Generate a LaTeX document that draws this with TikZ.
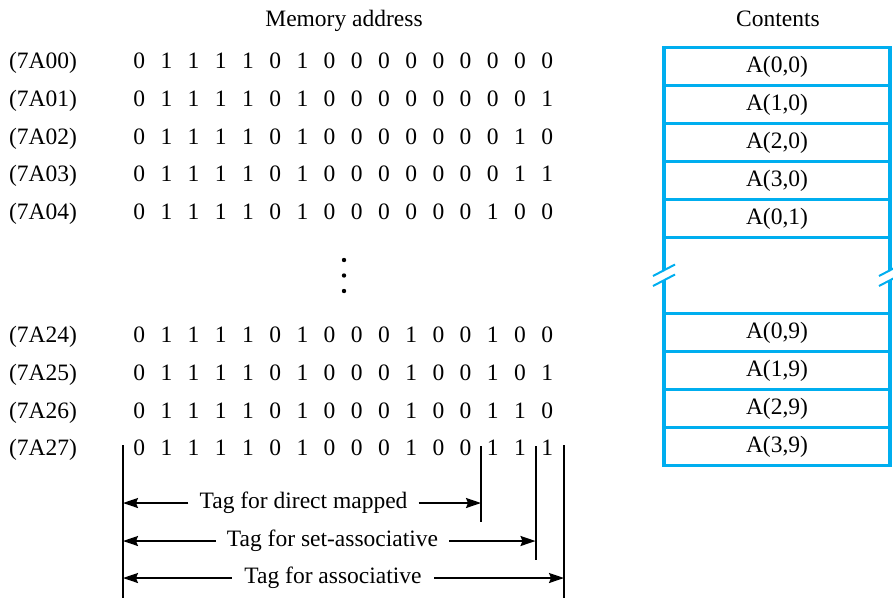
\documentclass[tikz,border=0pt]{standalone}
\usepackage{fontspec}
\setmainfont{Liberation Serif}
\usetikzlibrary{arrows.meta}
\definecolor{cy}{RGB}{0,174,239}
\newcommand\bb[1]{\makebox[27.2pt]{#1}}
\def\mybitsi#1{\ifx#1\relax\else\bb{#1}\expandafter\mybitsi\fi}
\newcommand\mybits[1]{\edef\mytmp{#1}\expandafter\mybitsi\mytmp\relax}
\begin{document}
\begin{tikzpicture}[x=1pt,y=-1pt,
  txt/.style={font=\fontsize{23.5}{27}\selectfont, inner sep=0pt},
  cell/.style={draw=cy, line width=3.5pt, minimum width=226pt, minimum height=38pt,
    inner sep=0pt, outer sep=0pt, font=\fontsize{23.5}{27}\selectfont},
  edge/.style={draw=cy, line width=3.5pt},
  brk/.style={draw=cy, line width=2pt},
  vline/.style={line width=2pt},
  tagarrow/.style={line width=1.8pt, -{Stealth[length=15pt,width=10pt,inset=2pt]}},
  tag/.style={txt, inner xsep=11pt, inner ysep=0pt}]
\useasboundingbox (0,0) rectangle (893,598);

% headers
\node[txt, anchor=base] (hmem) at (344,26) {Memory address};
\node[txt, anchor=base] (hcon) at (778,26) {Contents};

% address rows
\foreach \lab/\yy/\bs [count=\k] in {
  7A00/68.5/0111101000000000,
  7A01/106/0111101000000001,
  7A02/144/0111101000000010,
  7A03/181.5/0111101000000011,
  7A04/219/0111101000000100,
  7A24/342.5/0111101000100100,
  7A25/380.5/0111101000100101,
  7A26/418/0111101000100110,
  7A27/455.5/0111101000100111}{
  \node[txt, anchor=base] (a\k) at (43,\yy) {(\lab)};
  \node[txt, anchor=base west] (r\k) at (125.4,\yy) {\mybits{\bs}};
}

% vertical dots
\fill (344,260) circle (2.2pt);
\fill (344,275.5) circle (2.2pt);
\fill (344,291) circle (2.2pt);

% contents cells
\node[cell] (c1) at (777,66.5) {A(0,0)};
\node[cell] (c2) at (777,104.5) {A(1,0)};
\node[cell] (c3) at (777,142.5) {A(2,0)};
\node[cell] (c4) at (777,180.5) {A(3,0)};
\node[cell] (c5) at (777,218.5) {A(0,1)};
\node[cell] (c6) at (777,332.5) {A(0,9)};
\node[cell] (c7) at (777,370.5) {A(1,9)};
\node[cell] (c8) at (777,408.5) {A(2,9)};
\node[cell] (c9) at (777,446.5) {A(3,9)};

% broken gap cell edges
\coordinate (gl1) at (664,270.2);
\coordinate (gl2) at (664,280.2);
\coordinate (gr1) at (890,270.2);
\coordinate (gr2) at (890,280.2);
\draw[edge] (c5.south west) -- (gl1);
\draw[edge] (gl2) -- (c6.north west);
\draw[edge] (c5.south east) -- (gr1);
\draw[edge] (gr2) -- (c6.north east);
\draw[brk] (653,276) -- (675,264.5);
\draw[brk] (653,286) -- (675,274.5);
\draw[brk] (879,276) -- (901,264.5);
\draw[brk] (879,286) -- (901,274.5);

% tag boundary lines
\coordinate (L0t) at (123,445);   \coordinate (L0b) at (123,598);
\coordinate (L1t) at (481,446);   \coordinate (L1b) at (481,522);
\coordinate (L2t) at (535.5,446); \coordinate (L2b) at (535.5,560);
\coordinate (L3t) at (564,445);   \coordinate (L3b) at (564,598);
\draw[vline] (L0t) -- (L0b);
\draw[vline] (L1t) -- (L1b);
\draw[vline] (L2t) -- (L2b);
\draw[vline] (L3t) -- (L3b);

% tag labels and arrows
\node[tag] (t1) at (303.5,503) {Tag for direct mapped};
\node[tag] (t2) at (332.5,541) {Tag for set-associative};
\node[tag, inner xsep=12.5pt] (t3) at (333,578) {Tag for associative};
\draw[tagarrow] (t1.west) -- (t1.west -| L0t);
\draw[tagarrow] (t1.east) -- (t1.east -| L1t);
\draw[tagarrow] (t2.west) -- (t2.west -| L0t);
\draw[tagarrow] (t2.east) -- (t2.east -| L2t);
\draw[tagarrow] (t3.west) -- (t3.west -| L0t);
\draw[tagarrow] (t3.east) -- (t3.east -| L3t);
\end{tikzpicture}
\end{document}
